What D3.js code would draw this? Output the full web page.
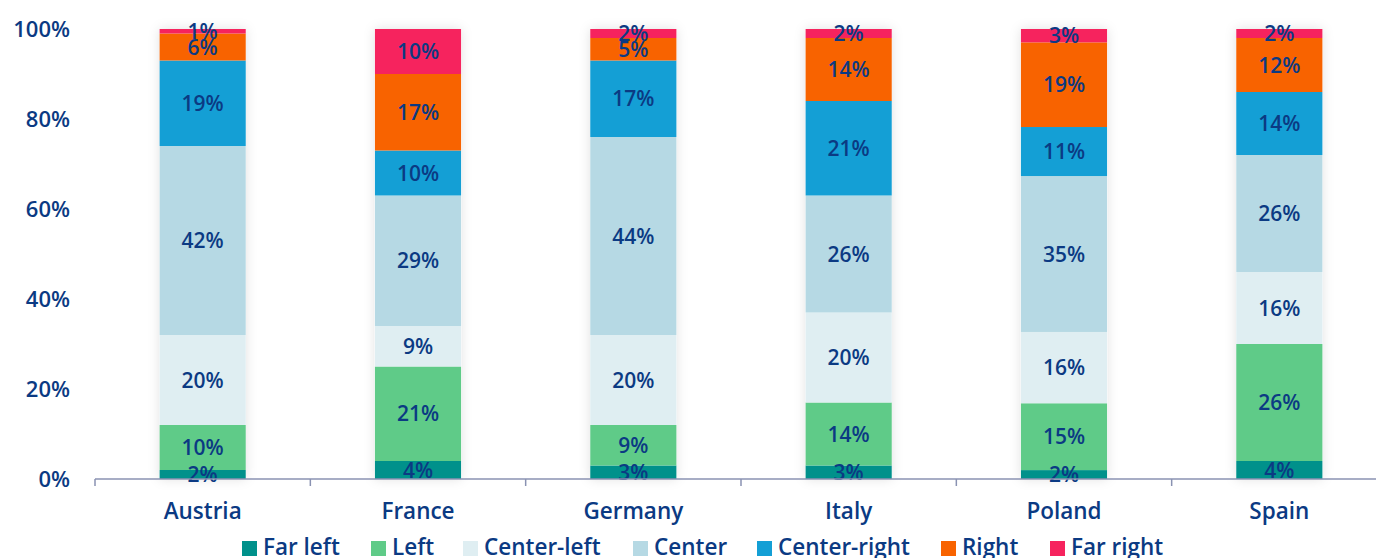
<!DOCTYPE html>
<html><head><meta charset="utf-8">
<script src="https://cdn.jsdelivr.net/npm/d3@7"></script>
<style>html,body{margin:0;padding:0;background:#fff;}svg{display:block;}</style>
</head><body>
<svg id="c" width="1376" height="558"></svg>
<script>
const countries = ["Austria","France","Germany","Italy","Poland","Spain"];
const seriesNames = ["Far left","Left","Center-left","Center","Center-right","Right","Far right"];
const farLeft    = [2,4,3,3,2,4];
const left       = [10,21,9,14,15,26];
const centerLeft = [20,9,20,20,16,16];
const center     = [42,29,44,26,35,26];
const centerRight= [19,10,17,21,11,14];
const right      = [6,17,5,14,19,12];
const farRight   = [1,10,2,2,3,2];
const yTicks = [0,0.2,0.4,0.6,0.8,1];
const colors = ["#00918B","#5FCB88","#DFEEF2","#B6D9E4","#149FD5","#F86300","#F6235E"];
const textColor = "#0B3A83";

const seriesVals = [farLeft,left,centerLeft,center,centerRight,right,farRight];
const rows = countries.map((c,i)=>{const o={country:c}; seriesNames.forEach((s,j)=>o[s]=seriesVals[j][i]); return o;});
const stack = d3.stack().keys(seriesNames).offset(d3.stackOffsetExpand);
const stacked = stack(rows);

const svg = d3.select("#c");
const font = "'Open Sans', sans-serif";
const x = d3.scaleBand().domain(countries).range([95,1387]).paddingInner(0.6).paddingOuter(0.3);
const y = d3.scaleLinear().domain([0,1]).range([479,29]);

const defs = svg.append("defs");
const f = defs.append("filter").attr("id","sh").attr("x","-30%").attr("y","-10%").attr("width","160%").attr("height","120%");
f.append("feDropShadow").attr("dx",0).attr("dy",0).attr("stdDeviation",6).attr("flood-color","#000").attr("flood-opacity",0.12);

svg.append("g").selectAll("rect").data(countries).join("rect")
  .attr("x",d=>x(d)).attr("width",x.bandwidth()).attr("y",y(1)).attr("height",y(0)-y(1))
  .attr("fill","#fff").attr("filter","url(#sh)");

const g = svg.append("g");
stacked.forEach((s,j)=>{
  g.append("g").selectAll("rect").data(s).join("rect")
    .attr("x",d=>x(d.data.country)).attr("width",x.bandwidth())
    .attr("y",d=>y(d[1])).attr("height",d=>y(d[0])-y(d[1]))
    .attr("fill",colors[j]);
});
stacked.forEach((s,j)=>{
  g.append("g").selectAll("text").data(s).join("text")
    .attr("x",d=>x(d.data.country)+x.bandwidth()/2)
    .attr("y",d=>(y(d[0])+y(d[1]))/2)
    .attr("dy","0.36em").attr("text-anchor","middle")
    .attr("font-family",font).attr("font-weight",600).attr("font-size",21)
    .attr("fill",textColor)
    .text(d=>d.data[s.key]+"%");
});

const xa = svg.append("g").attr("transform","translate(0,479)");
xa.append("line").attr("x1",95).attr("x2",1376).attr("y1",0).attr("y2",0).attr("stroke","#8A92B2").attr("stroke-width",1.5);
const step = x.step();
const tickXs = d3.range(0,7).map(i=>95+i*step);
xa.selectAll("line.t").data(tickXs).join("line").attr("class","t")
  .attr("x1",d=>d).attr("x2",d=>d).attr("y1",0).attr("y2",7).attr("stroke","#8A92B2").attr("stroke-width",1.5);
xa.selectAll("text").data(countries).join("text")
  .attr("x",d=>x(d)+x.bandwidth()/2).attr("y",40).attr("text-anchor","middle")
  .attr("font-family",font).attr("font-weight",600).attr("font-size",22.5).attr("fill",textColor).text(d=>d);

svg.append("g").selectAll("text").data(yTicks).join("text")
  .attr("x",70).attr("y",d=>y(d)).attr("dy","0.36em").attr("text-anchor","end")
  .attr("font-family",font).attr("font-weight",600).attr("font-size",22).attr("fill",textColor)
  .text(d=>d3.format(".0%")(d));

const legX = [242,371,463,633,757,941,1050];
const lg = svg.append("g");
seriesNames.forEach((s,j)=>{
  lg.append("rect").attr("x",legX[j]).attr("y",541).attr("width",15).attr("height",15).attr("fill",colors[j]);
  lg.append("text").attr("x",legX[j]+21).attr("y",555).attr("font-family",font).attr("font-weight",600)
    .attr("font-size",22.5).attr("fill",textColor).text(s);
});
</script>
</body></html>
